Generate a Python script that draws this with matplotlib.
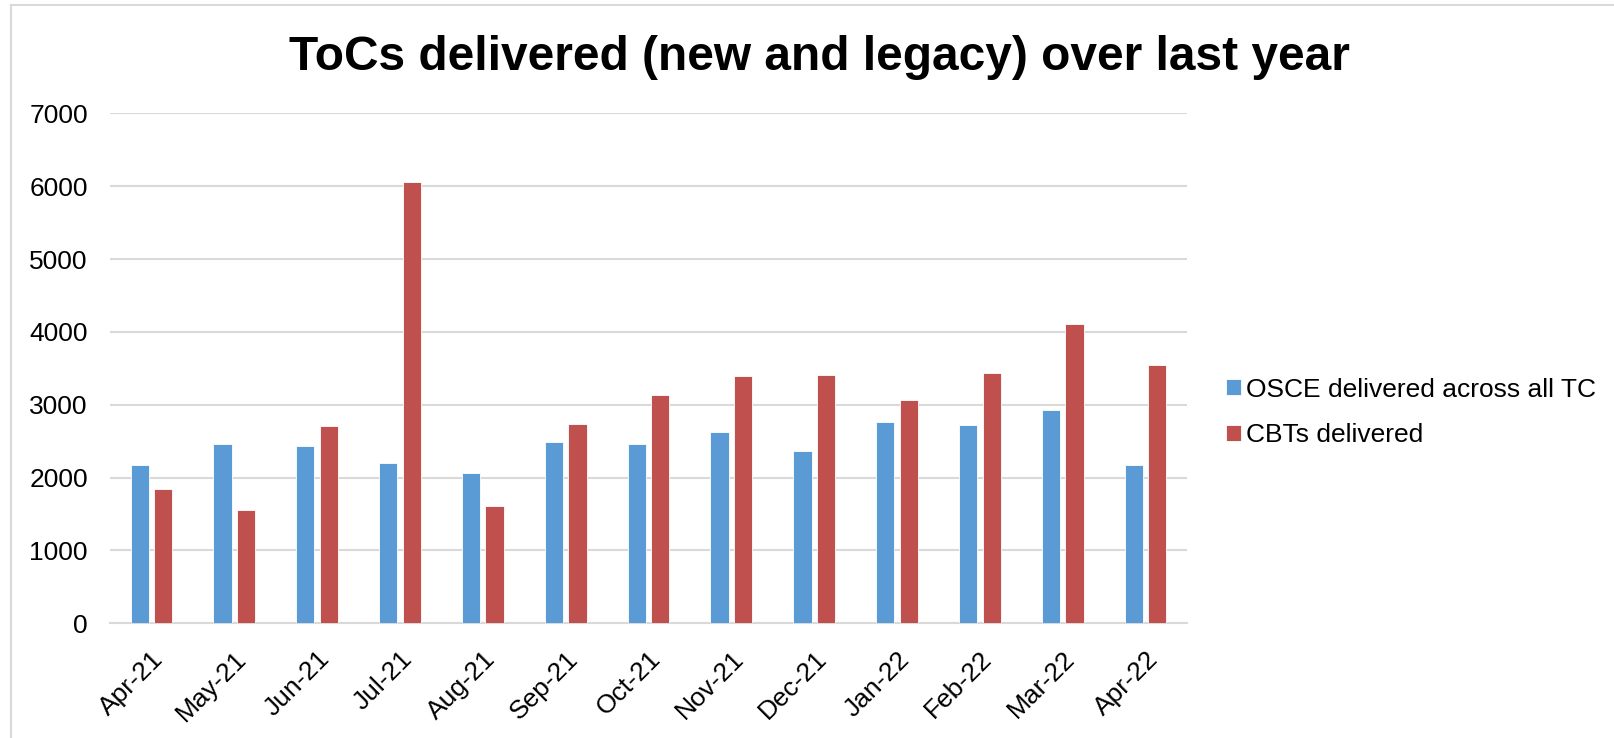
import numpy as np
import matplotlib.pyplot as plt
from matplotlib.lines import Line2D

plt.rcParams['font.family'] = ['Liberation Sans', 'DejaVu Sans']

months = ['Apr-21', 'May-21', 'Jun-21', 'Jul-21', 'Aug-21', 'Sep-21', 'Oct-21',
          'Nov-21', 'Dec-21', 'Jan-22', 'Feb-22', 'Mar-22', 'Apr-22']
osce = [2172, 2461, 2436, 2206, 2064, 2490, 2461, 2627, 2363, 2765, 2725, 2922, 2176]
cbt = [1848, 1559, 2706, 6059, 1608, 2735, 3132, 3392, 3412, 3059, 3441, 4108, 3549]
labels = ['OSCE delivered across all TC', 'CBTs delivered']

W, H = 1614, 738
fig = plt.figure(figsize=(W / 100, H / 100), dpi=100)
ax = fig.add_axes([110 / W, 1 - 623.3 / H, (1187 - 110) / W, (623.3 - 113.3) / H])

x = np.arange(len(months))
bw = 0.22
ax.bar(x - 0.142, osce, bw, color='#5B9BD5', edgecolor='white', linewidth=0.6,
       label=labels[0], zorder=3)
ax.bar(x + 0.142, cbt, bw, color='#C0504D', edgecolor='white', linewidth=0.6,
       label=labels[1], zorder=3)

ax.set_xlim(-0.5, len(months) - 0.5)
ax.set_ylim(0, 7000)
ax.set_yticks(range(0, 7001, 1000))
ax.yaxis.grid(True, color='#D9D9D9', linewidth=1.5, zorder=0)
for s in ['top', 'right', 'left']:
    ax.spines[s].set_visible(False)
ax.spines['bottom'].set_color('#D9D9D9')
ax.spines['bottom'].set_linewidth(1.5)
ax.tick_params(axis='y', length=0, pad=16, labelsize=19)
ax.tick_params(axis='x', length=0, pad=17, labelsize=19)
ax.set_xticks(x)
ax.set_xticklabels(months, rotation=45, ha='right', rotation_mode='anchor')

fig.text(819 / W, 1 - 70 / H, 'ToCs delivered (new and legacy) over last year',
         ha='center', va='baseline', fontsize=34.5, fontweight='bold')

fig.legend(loc='center left', bbox_to_anchor=(1226 / W, 1 - 412.5 / H), frameon=False,
           fontsize=19, handlelength=0.57, handleheight=0.57, handletextpad=0.2,
           labelspacing=0.82, borderpad=0, borderaxespad=0)

# outer chart border (only top and left edges are visible)
fig.add_artist(Line2D([11 / W, 1], [1 - 5 / H, 1 - 5 / H], color='#D9D9D9', linewidth=1.5))
fig.add_artist(Line2D([11 / W, 11 / W], [0, 1 - 5 / H], color='#D9D9D9', linewidth=1.5))

fig.savefig('out.png', dpi=100)
